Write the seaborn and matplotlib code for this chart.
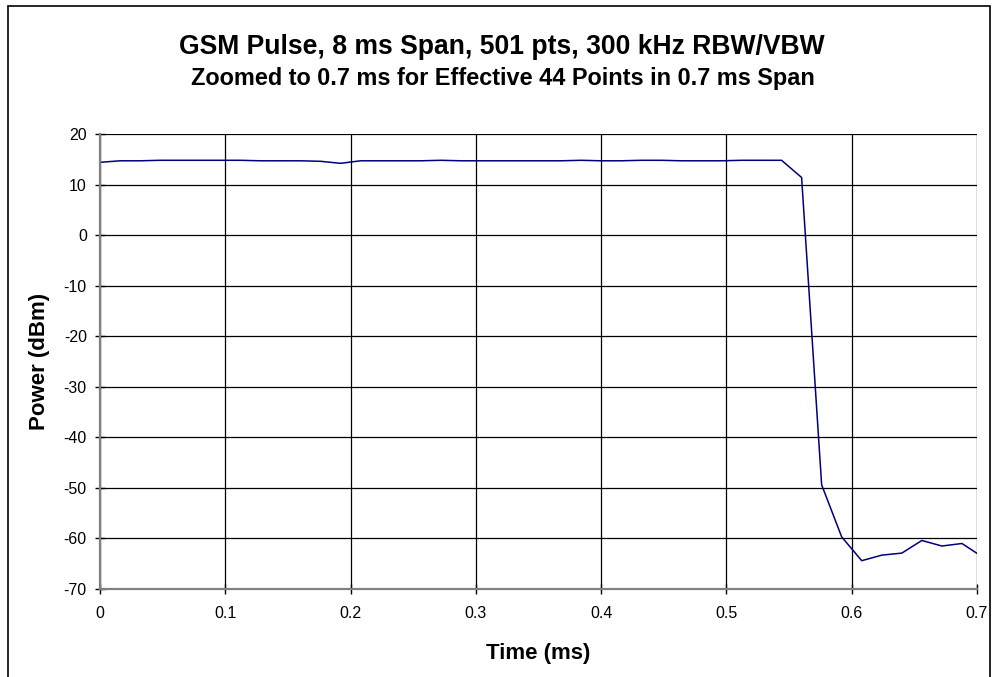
import numpy as np
import pandas as pd
import matplotlib
matplotlib.use("Agg")
import matplotlib.pyplot as plt
import seaborn as sns
from matplotlib.patches import Rectangle

# Data (time in ms, sample spacing 8 ms / 500 = 0.016 ms)
time_ms = [0.000, 0.016, 0.032, 0.048, 0.064, 0.080, 0.096, 0.112, 0.128, 0.144,
           0.160, 0.176, 0.192, 0.208, 0.224, 0.240, 0.256, 0.272, 0.288, 0.304,
           0.320, 0.336, 0.352, 0.368, 0.384, 0.400, 0.416, 0.432, 0.448, 0.464,
           0.480, 0.496, 0.512, 0.528, 0.544, 0.560, 0.576, 0.592, 0.608, 0.624,
           0.640, 0.656, 0.672, 0.688, 0.704]
power_dbm = [14.4, 14.7, 14.7, 14.8, 14.8, 14.8, 14.8, 14.8, 14.7, 14.7,
             14.7, 14.6, 14.2, 14.7, 14.7, 14.7, 14.7, 14.8, 14.7, 14.7,
             14.7, 14.7, 14.7, 14.7, 14.8, 14.7, 14.7, 14.8, 14.8, 14.7,
             14.7, 14.7, 14.8, 14.8, 14.8, 11.4, -49.4, -59.7, -64.4, -63.3,
             -62.9, -60.4, -61.5, -61.0, -63.6]
x_ticks = [0, 0.1, 0.2, 0.3, 0.4, 0.5, 0.6, 0.7]
x_tick_labels = ["0", "0.1", "0.2", "0.3", "0.4", "0.5", "0.6", "0.7"]
y_ticks = [20, 10, 0, -10, -20, -30, -40, -50, -60, -70]

title = "GSM Pulse, 8 ms Span, 501 pts, 300 kHz RBW/VBW"
subtitle = "Zoomed to 0.7 ms for Effective 44 Points in 0.7 ms Span"

sns.set_style("white")
plt.rcParams["font.family"] = ["Liberation Sans", "DejaVu Sans"]
plt.rcParams["axes.unicode_minus"] = False
plt.rcParams["text.color"] = "black"
plt.rcParams["axes.labelcolor"] = "black"
plt.rcParams["xtick.color"] = "black"
plt.rcParams["ytick.color"] = "black"

df = pd.DataFrame({"Time": time_ms, "Power": power_dbm})

W, H = 995, 677
fig = plt.figure(figsize=(W / 100, H / 100), dpi=100)
ax = fig.add_axes([100 / W, 1 - 589 / H, (977 - 100) / W, (589 - 134) / H])

sns.lineplot(data=df, x="Time", y="Power", ax=ax, color="#000080", linewidth=1.1)

ax.set_xlim(0, 0.7)
ax.set_ylim(-70, 20)
ax.set_xticks(x_ticks)
ax.set_xticklabels(x_tick_labels)
ax.set_yticks(y_ticks)
ax.grid(True, color="black", linewidth=0.9)
ax.set_axisbelow(True)

for side in ["top", "right"]:
    ax.spines[side].set_visible(False)
for side in ["left", "bottom"]:
    ax.spines[side].set_color("#808080")
    ax.spines[side].set_linewidth(1.6)

ax.tick_params(axis="both", which="major", labelsize=11.5, direction="inout",
               length=7, width=1, color="black", bottom=True, left=True)
ax.tick_params(axis="x", pad=9)
ax.tick_params(axis="y", pad=6)

ax.set_xlabel("Time (ms)", fontsize=16, fontweight="bold")
ax.set_ylabel("Power (dBm)", fontsize=16, fontweight="bold")
ax.xaxis.set_label_coords(0.5, -(653 - 589) / (589 - 134), transform=ax.transAxes)
ax.xaxis.label.set_va("center")
ax.yaxis.set_label_coords(-(100 - 40) / (977 - 100), 0.5, transform=ax.transAxes)
ax.yaxis.label.set_va("center")

t1 = fig.text(502 / W, 1 - 47 / H, title, ha="center", va="center",
              fontsize=18, fontweight="bold")
t2 = fig.text(503 / W, 1 - 79 / H, subtitle, ha="center", va="center",
              fontsize=15, fontweight="bold")

# fit title widths to the measured extents in the reference
fig.canvas.draw()
r = fig.canvas.get_renderer()
for t, target in ((t1, 646), (t2, 626)):
    w = t.get_window_extent(r).width
    t.set_fontsize(t.get_fontsize() * target / w)

# Chart-area border
fig.patches.append(Rectangle((8 / W, -0.01), (990 - 8) / W, 1.01 - 6 / H,
                             transform=fig.transFigure, fill=False,
                             edgecolor="black", linewidth=1.2))

fig.savefig("out.png", dpi=100)
